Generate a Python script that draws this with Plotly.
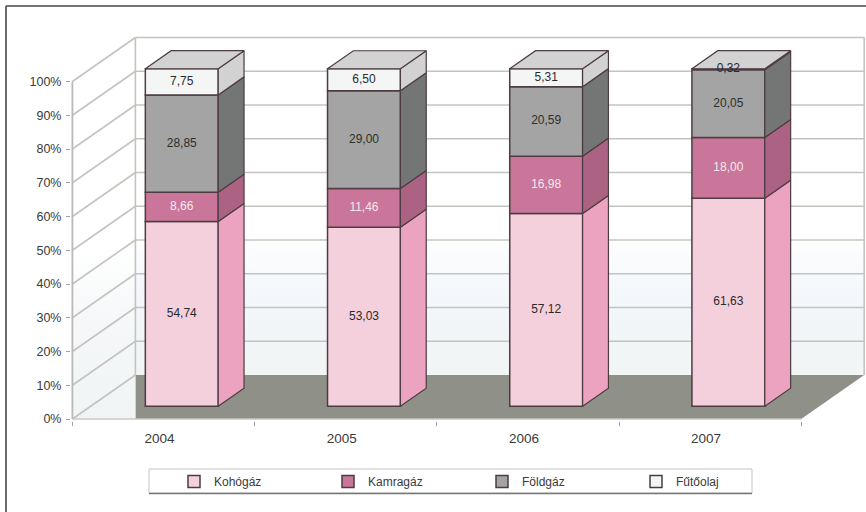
import plotly.graph_objects as go

years = ["2004", "2005", "2006", "2007"]
series_names = ["Kohógáz", "Kamragáz", "Földgáz", "Fűtőolaj"]
kohogaz = [54.74, 53.03, 57.12, 61.63]
kamragaz = [8.66, 11.46, 16.98, 18.00]
foldgaz = [28.85, 29.00, 20.59, 20.05]
futoolaj = [7.75, 6.50, 5.31, 0.32]
series_values = [kohogaz, kamragaz, foldgaz, futoolaj]
y_ticks = list(range(0, 101, 10))

front_colors = ["#f4d0dd", "#c9769a", "#a4a4a4", "#f4f6f6"]
side_colors = ["#eba3bf", "#ac6383", "#747575", "#d2d2d2"]
label_colors = ["#2a2a2a", "#f6e8ee", "#2f2f2a", "#2a2a2a"]
EDGE = "#4d3c42"
GRID = "#c4c4bf"
FLOOR = "#8f9188"
TXT = "#3a3a3a"
FONT = "Liberation Sans"

W, H = 866, 512
L, R, T, B = 71, 0, 34, 91
PX_CAT, PX_PCT = 182.2, 3.375
X0_PX, Y0_PX = 163.5, 419

x_range = [(L - X0_PX) / PX_CAT, (W - R - X0_PX) / PX_CAT]
y_range = [(Y0_PX - (H - B)) / PX_PCT, (Y0_PX - T) / PX_PCT]

# oblique depth of the 3-D box, in axis units
DX, DY = 0.3458, 13.04
D_FRONT, D_BACK = 0.29, 0.70
BAR_W = 0.40
X_L, X_R = -0.5, 3.5


def proj(x, y, d):
    return x + d * DX, y + d * DY


def poly(pts, color, axes="", line=None, width=1, **kw):
    xs = [p[0] for p in pts] + [pts[0][0]]
    ys = [p[1] for p in pts] + [pts[0][1]]
    return go.Scatter(
        x=xs, y=ys, mode="lines", fill="toself", fillcolor=color,
        line=dict(color=line or color, width=width if line else 0),
        xaxis="x" + axes, yaxis="y" + axes,
        hoverinfo="skip", showlegend=False, **kw)


def seg(a, b, color=GRID, width=1.6):
    return go.Scatter(
        x=[a[0], b[0]], y=[a[1], b[1]], mode="lines",
        line=dict(color=color, width=width),
        hoverinfo="skip", showlegend=False)


fig = go.Figure()

# floor
fig.add_trace(poly([proj(X_L, 0, 1), proj(X_R, 0, 1), proj(X_R, 0, 0), (X_L + DX, 0)], FLOOR))

# back wall and left wall with soft vertical gradient
wall_scale = [[0, "#f3f5f5"], [0.10, "#f1f5f7"], [0.25, "#f4f7fb"], [0.42, "#ffffff"], [1, "#ffffff"]]
fig.add_trace(go.Scatter(
    x=[X_L + DX, X_R + DX, X_R + DX, X_L + DX, X_L + DX],
    y=[DY, DY, 100 + DY, 100 + DY, DY],
    mode="lines", line=dict(width=0), fill="toself",
    fillgradient=dict(type="vertical", colorscale=wall_scale, start=DY, stop=100 + DY),
    hoverinfo="skip", showlegend=False))
left_scale = [[0, "#f1f4f4"], [0.25, "#f5f7f8"], [0.45, "#ffffff"], [1, "#ffffff"]]
fig.add_trace(go.Scatter(
    x=[X_L, X_L + DX, X_L + DX, X_L, X_L],
    y=[0, 0, 100 + DY, 100, 0],
    mode="lines", line=dict(width=0), fill="toself",
    fillgradient=dict(type="vertical", colorscale=left_scale, start=0, stop=100 + DY),
    hoverinfo="skip", showlegend=False))

# wall grid
for v in y_ticks:
    fig.add_trace(seg(proj(X_L, v, 0), proj(X_L, v, 1)))
    if v > 0:
        fig.add_trace(seg(proj(X_L, v, 1), proj(X_R, v, 1)))
fig.add_trace(seg(proj(X_L, 0, 1), proj(X_L, 100, 1)))
fig.add_trace(seg(proj(X_R, 0, 1), proj(X_R, 100, 1)))
fig.add_trace(seg(proj(X_L, 0, 0), proj(X_L, 100, 0), "#b9b9b9", 1.8))
fig.add_trace(seg(proj(X_L, 0, 0), proj(X_R, 0, 0), "#c8c8c4", 1.6))

# bars: front faces
base_y = D_FRONT * DY
bar_x = [i + D_FRONT * DX for i in range(len(years))]
cum = [0.0] * len(years)
for s, name in enumerate(series_names):
    vals = series_values[s]
    fig.add_trace(go.Bar(
        x=bar_x, y=vals, base=[c + base_y for c in cum], width=BAR_W, name=name,
        marker=dict(color=front_colors[s], line=dict(color=EDGE, width=1.5)),
        xaxis="x2", yaxis="y2", hoverinfo="skip"))
    # side faces
    for i, v in enumerate(vals):
        x_r = i + BAR_W / 2
        pts = [proj(x_r, cum[i], D_FRONT), proj(x_r, cum[i] + v, D_FRONT),
               proj(x_r, cum[i] + v, D_BACK), proj(x_r, cum[i], D_BACK)]
        fig.add_trace(poly(pts, side_colors[s], "2", EDGE, 1.2))
    cum = [c + v for c, v in zip(cum, vals)]

# bar tops
for i, total in enumerate(cum):
    x_l, x_r = i - BAR_W / 2, i + BAR_W / 2
    fig.add_trace(poly([proj(x_l, total, D_FRONT), proj(x_r, total, D_FRONT),
                        proj(x_r, total, D_BACK), proj(x_l, total, D_BACK)],
                       side_colors[3], "2", EDGE, 1.2))

# data labels
cum = [0.0] * len(years)
for s in range(len(series_names)):
    vals = series_values[s]
    fig.add_trace(go.Scatter(
        x=bar_x, y=[c + v / 2 + base_y for c, v in zip(cum, vals)],
        mode="text", text=[f"{v:.2f}".replace(".", ",") for v in vals],
        textfont=dict(family=FONT, size=12, color=label_colors[s]),
        textposition="middle center", xaxis="x2", yaxis="y2",
        hoverinfo="skip", showlegend=False))
    cum = [c + v for c, v in zip(cum, vals)]


def px(v):
    return (v - L) / (W - L - R)


def py(v):
    return 1 - (v - T) / (H - T - B)


shapes = [
    dict(type="line", xref="paper", yref="paper", x0=px(6), x1=px(866), y0=py(6), y1=py(6),
         line=dict(color="#4a4648", width=1.6)),
    dict(type="line", xref="paper", yref="paper", x0=px(6), x1=px(6), y0=py(6), y1=py(512),
         line=dict(color="#4a4648", width=1.6)),
    dict(type="rect", xref="paper", yref="paper", x0=px(149), x1=px(752), y0=py(469), y1=py(493),
         fillcolor="#ffffff", line=dict(color="#c4c4c4", width=1)),
    dict(type="line", xref="paper", yref="paper", x0=px(149), x1=px(752), y0=py(493.5), y1=py(493.5),
         line=dict(color="#777777", width=1.6)),
]

fig.update_layout(
    width=W, height=H, autosize=False,
    margin=dict(l=L, r=R, t=T, b=B, pad=0),
    paper_bgcolor="#ffffff", plot_bgcolor="rgba(0,0,0,0)",
    barmode="overlay", shapes=shapes,
    font=dict(family=FONT, size=12, color=TXT),
    xaxis=dict(range=x_range, tickmode="array", tickvals=list(range(len(years))), ticktext=years,
               ticks="", showgrid=False, zeroline=False, showline=False,
               ticklabelstandoff=7, ticklabelshift=-4,
               tickfont=dict(size=13.5, color=TXT), fixedrange=True),
    yaxis=dict(range=y_range, tickmode="array", tickvals=y_ticks,
               ticktext=[f"{v}%" for v in y_ticks], ticks="outside", ticklen=4,
               tickcolor="#a0a0a0", showgrid=False, zeroline=False, showline=False,
               ticklabelstandoff=2,
               tickfont=dict(size=12.5, color=TXT), fixedrange=True),
    xaxis2=dict(range=x_range, overlaying="x", anchor="y2",
                tickmode="array", tickvals=[-0.5, 0.5, 1.5, 2.5, 3.5], ticktext=[""] * 5,
                ticks="outside", ticklen=4, tickcolor="#a0a0a0",
                showgrid=False, zeroline=False, showline=False, fixedrange=True),
    yaxis2=dict(range=y_range, overlaying="y", anchor="x2", visible=False, fixedrange=True),
    legend=dict(orientation="h", x=px(174), y=py(467), xanchor="left", yanchor="top",
                entrywidth=109, entrywidthmode="pixels", bgcolor="rgba(0,0,0,0)",
                borderwidth=0, font=dict(size=12, color=TXT), traceorder="normal"),
)

fig.write_html("out.html", post_script="document.body.style.margin='0';",
               config={"displayModeBar": False})
